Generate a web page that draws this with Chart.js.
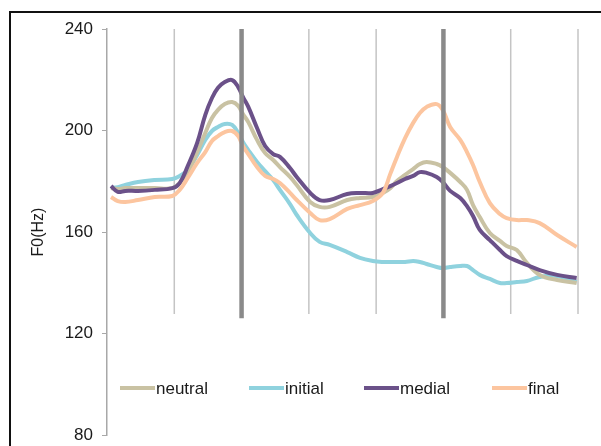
<!DOCTYPE html>
<html>
<head>
<meta charset="utf-8">
<script src="https://cdn.jsdelivr.net/npm/chart.js@4.4.1/dist/chart.umd.min.js"></script>
<style>
  html, body { margin: 0; padding: 0; background: #fff; }
  #wrap { width: 601px; height: 446px; position: relative; }
</style>
</head>
<body>
<div id="wrap"><canvas id="f0Chart"></canvas></div>
<script>
// normalised time (one unit per segment)
const timePoints = [0.06, 0.16, 0.27, 0.46, 0.71, 0.97, 1.08, 1.20, 1.34, 1.46, 1.56, 1.65, 1.75, 1.86, 1.95, 2.02, 2.10, 2.23, 2.35, 2.47, 2.57, 2.72, 2.82, 3.02, 3.16, 3.31, 3.57, 3.76, 3.95, 4.10, 4.21, 4.31, 4.43, 4.55, 4.65, 4.75, 4.90, 4.99, 5.10, 5.25, 5.35, 5.44, 5.54, 5.69, 5.84, 5.94, 6.09, 6.24, 6.43, 6.69, 6.98];

const neutralF0 = [177.3, 176.9, 177.3, 177.3, 177.3, 177.3, 179.3, 183.6, 191.5, 199.0, 204.9, 208.1, 210.4, 211.2, 209.7, 206.5, 203.3, 196.3, 191.1, 188.4, 185.6, 181.7, 178.5, 171.8, 169.9, 169.9, 172.6, 173.4, 173.8, 175.4, 177.3, 180.1, 182.5, 184.8, 186.8, 187.6, 186.8, 185.6, 183.3, 179.7, 176.6, 170.6, 165.9, 159.6, 156.5, 154.5, 152.9, 147.8, 143.1, 141.1, 139.9];
const initialF0 = [177.3, 177.7, 178.5, 179.7, 180.5, 180.9, 182.1, 184.4, 190.3, 196.3, 199.8, 201.4, 202.6, 202.2, 199.0, 195.5, 192.3, 187.6, 184.0, 180.5, 176.6, 171.0, 166.7, 159.6, 156.1, 154.9, 152.1, 149.8, 148.6, 148.2, 148.2, 148.2, 148.2, 148.6, 148.2, 147.4, 146.2, 145.8, 146.2, 146.6, 146.6, 145.0, 143.1, 141.5, 139.9, 139.9, 140.3, 140.7, 142.3, 142.7, 140.3];
const medialF0 = [178.1, 175.8, 176.2, 176.2, 176.6, 177.3, 179.3, 186.0, 195.1, 206.1, 212.8, 216.8, 219.1, 219.9, 217.1, 213.2, 209.3, 201.0, 193.9, 190.7, 189.6, 185.2, 181.7, 175.4, 172.6, 172.6, 175.0, 175.4, 175.4, 176.9, 178.1, 179.3, 180.9, 182.1, 183.6, 183.3, 181.7, 179.7, 176.2, 173.4, 170.2, 166.3, 160.8, 156.8, 152.9, 150.5, 148.6, 147.0, 145.0, 143.1, 141.9];
const finalF0 = [173.8, 172.2, 171.8, 172.6, 173.8, 174.2, 176.6, 181.3, 187.2, 191.5, 195.9, 197.8, 199.4, 199.8, 197.8, 193.9, 190.7, 185.6, 182.1, 180.9, 179.3, 175.4, 172.6, 167.5, 164.7, 165.1, 169.1, 170.6, 172.2, 175.4, 182.9, 189.6, 197.0, 203.0, 206.9, 209.3, 210.4, 208.1, 201.4, 196.3, 191.5, 186.4, 179.7, 171.4, 167.1, 165.5, 164.7, 164.7, 163.5, 158.8, 154.1];

const seriesNames = ['neutral', 'initial', 'medial', 'final'];
const seriesColors = ['#c9c2a3', '#8fd2de', '#6b5189', '#fcc59f'];
const yTicks = [80, 120, 160, 200, 240];

// segment boundaries; the two heavy ones mark the focus region
const boundaries = [1, 2, 3, 4, 5, 6, 7];
const heavyBoundaries = [2, 5];

function toPoints(values) {
  return values.map((v, i) => ({ x: timePoints[i], y: v }));
}

const allSeries = [neutralF0, initialF0, medialF0, finalF0];
const drawOrder = [3, 4, 2, 1];

const frame = {
  id: 'frame',
  beforeDraw(chart) {
    const ctx = chart.ctx;
    ctx.save();
    ctx.fillStyle = '#fff';
    ctx.fillRect(0, 0, chart.width, chart.height);
    ctx.strokeStyle = '#111';
    ctx.lineWidth = 2;
    ctx.beginPath();
    ctx.moveTo(chart.width, 12);
    ctx.lineTo(10, 12);
    ctx.lineTo(10, chart.height);
    ctx.stroke();
    ctx.restore();
  }
};

function drawBoundaries(chart, heavy) {
  const { ctx, scales: { x, y } } = chart;
  ctx.save();
  boundaries.forEach(b => {
    const isHeavy = heavyBoundaries.includes(b);
    if (isHeavy !== heavy) return;
    const px = x.getPixelForValue(b);
    ctx.strokeStyle = isHeavy ? '#8a8a8a' : '#c4c4c4';
    ctx.lineWidth = isHeavy ? 4.5 : 1.5;
    ctx.beginPath();
    ctx.moveTo(px, y.getPixelForValue(240));
    ctx.lineTo(px, y.getPixelForValue(isHeavy ? 126 : 127.7));
    ctx.stroke();
  });
  ctx.restore();
}

const segmentLines = {
  id: 'segmentLines',
  beforeDatasetsDraw(chart) { drawBoundaries(chart, false); },
  afterDatasetsDraw(chart) { drawBoundaries(chart, true); }
};

const insideLegend = {
  id: 'insideLegend',
  afterDraw(chart) {
    const ctx = chart.ctx;
    const starts = [120, 249, 364, 492];
    const yMid = 388;
    ctx.save();
    ctx.font = '17px "Liberation Sans", Arial, sans-serif';
    ctx.textBaseline = 'middle';
    seriesNames.forEach((name, i) => {
      ctx.strokeStyle = seriesColors[i];
      ctx.lineWidth = 4;
      ctx.beginPath();
      ctx.moveTo(starts[i], yMid);
      ctx.lineTo(starts[i] + 35, yMid);
      ctx.stroke();
      ctx.fillStyle = '#1a1a1a';
      ctx.fillText(name, starts[i] + 36, yMid + 1);
    });
    ctx.restore();
  }
};

new Chart(document.getElementById('f0Chart'), {
  type: 'line',
  data: {
    datasets: seriesNames.map((name, i) => ({
      label: name,
      data: toPoints(allSeries[i]),
      borderColor: seriesColors[i],
      borderWidth: 4,
      pointRadius: 0,
      tension: 0.4,
      fill: false,
      order: drawOrder[i]
    }))
  },
  options: {
    responsive: true,
    maintainAspectRatio: false,
    animation: false,
    layout: { padding: { left: 10, right: 23, top: 29, bottom: 11 } },
    plugins: { legend: { display: false }, tooltip: { enabled: false } },
    scales: {
      x: { type: 'linear', min: 0, max: 7, display: false },
      y: {
        min: 80, max: 240,
        afterBuildTicks(scale) { scale.ticks = yTicks.map(v => ({ value: v })); },
        afterFit(scale) {
          scale.width = 97;
          scale.paddingTop = 0;
          scale.paddingBottom = 0;
        },
        grid: { drawOnChartArea: false, drawTicks: true, tickLength: 5, color: '#a8a8a8' },
        border: { display: true, color: '#a8a8a8', width: 1.5 },
        ticks: {
          padding: 9,
          color: '#1a1a1a',
          font: { family: '"Liberation Sans", Arial, sans-serif', size: 17 }
        },
        title: {
          display: true,
          text: 'F0(Hz)',
          color: '#1a1a1a',
          padding: { top: 19, bottom: 0 },
          font: { family: '"Liberation Sans", Arial, sans-serif', size: 16 }
        }
      }
    }
  },
  plugins: [frame, segmentLines, insideLegend]
});
</script>
</body>
</html>
